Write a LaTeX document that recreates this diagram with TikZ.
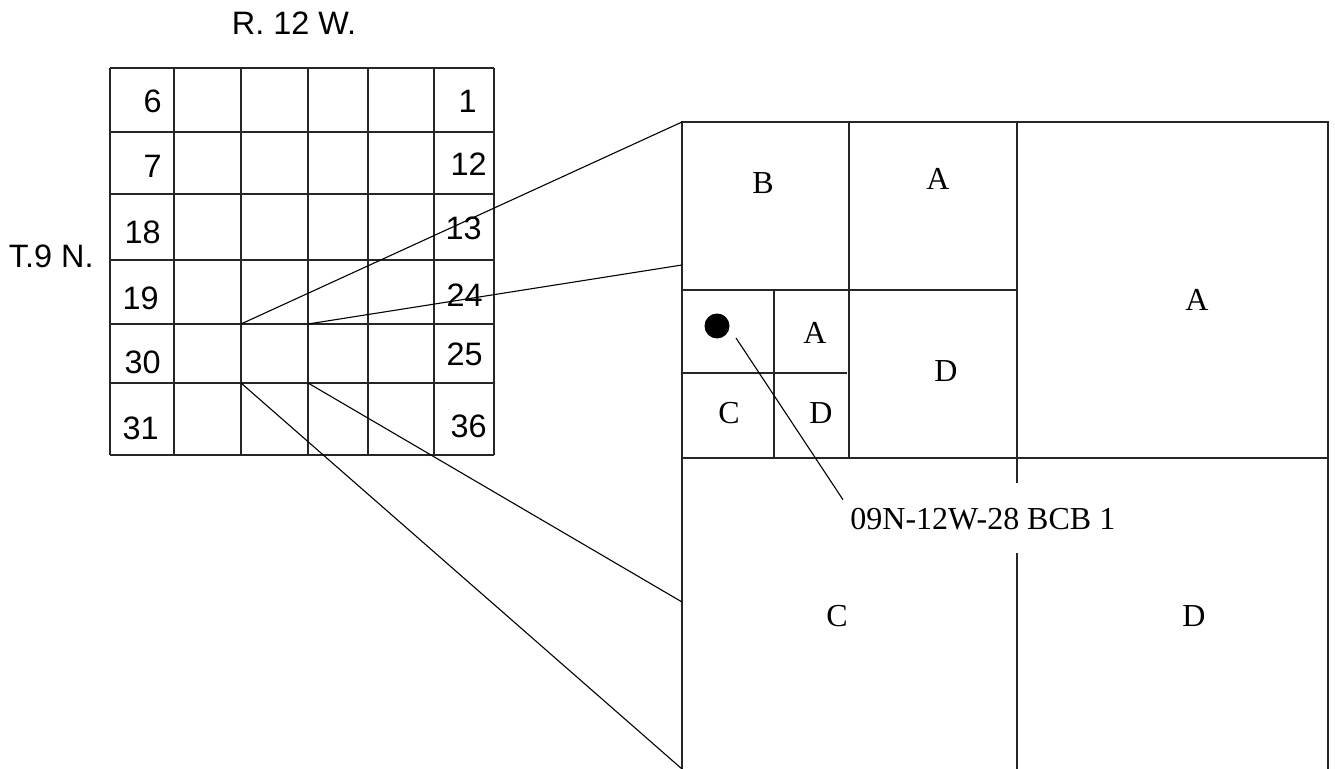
\documentclass[tikz,border=0pt]{standalone}
\usepackage{fontspec}
\setmainfont{Liberation Serif}
\setsansfont{Liberation Sans}
\usetikzlibrary{positioning}

\begin{document}
\begin{tikzpicture}[
  x=0.5pt, y=-0.5pt,
  num/.style={font=\sffamily\fontsize{16.2}{19}\selectfont, inner sep=0pt},
  qtr/.style={font=\fontsize{16}{19}\selectfont, inner sep=0pt},
  ruling/.style={line width=0.75pt, draw=black!85},
  leader/.style={line width=0.55pt},
  well/.style={circle, fill=black, inner sep=0pt, minimum size=12.5pt},
]
\useasboundingbox (0,0) rectangle (1335,769);
% township grid
\foreach \gx in {110,174,241,308,368,434,494} \draw[ruling] (\gx,68) -- (\gx,455);
\foreach \gy in {68,132,194,260,324,383,455} \draw[ruling] (110,\gy) -- (494,\gy);
\node[num] (range) at (294,23) {R. 12 W.};
\node[num, anchor=east] (town) at (94,256) {T.9 N.};
\node[num, anchor=east] (s6) at (162,101) {6};
\node[num, anchor=east] (s7) at (162,166) {7};
\node[num, anchor=east] (s18) at (161,232) {18};
\node[num, anchor=east] (s19) at (159,298) {19};
\node[num, anchor=east] (s30) at (161,362) {30};
\node[num, anchor=east] (s31) at (159,428) {31};
\node[num, anchor=east] (s1) at (477,101) {1};
\node[num, anchor=east] (s12) at (487,164) {12};
\node[num, anchor=east] (s13) at (482,228) {13};
\node[num, anchor=east] (s24) at (483,295) {24};
\node[num, anchor=east] (s25) at (483,354) {25};
\node[num, anchor=east] (s36) at (487,426) {36};
% section 28, enlarged
\coordinate (sqnw) at (682,122);
\coordinate (sqsw) at (682,769);
\coordinate (sqw1) at (682,265);
\coordinate (sqw2) at (682,602);
\draw[ruling, line width=1pt] (sqsw) -- (sqnw) -- (1328,122) -- (1328,769);
\draw[ruling, line width=1pt] (682,458) -- (1328,458);
\draw[ruling, line width=1pt] (1017,122) -- (1017,483);
\draw[ruling, line width=1pt] (1017,553) -- (1017,769);
\draw[ruling, line width=1pt] (849,122) -- (849,458);
\draw[ruling, line width=1pt] (682,290) -- (1017,290);
\draw[ruling] (774,290) -- (774,458);
\draw[ruling] (682,373) -- (847,373);
\node[qtr] (qb) at (763,183) {B};
\node[qtr] (qa) at (938,179) {A};
\node[qtr] (qaa) at (1197,300) {A};
\node[qtr] (qd) at (946,371) {D};
\node[qtr] (qba) at (815,333) {A};
\node[qtr] (qbc) at (729,413) {C};
\node[qtr] (qbd) at (821,413) {D};
\node[qtr] (qc) at (837,616) {C};
\node[qtr] (qdd) at (1194,616) {D};
\node[well] (site) at (717,326) {};
\node[qtr, anchor=west] (tag) at (850,519) {09N-12W-28 BCB 1};
\coordinate (sitegap) at (736,338);
\draw[leader] (sitegap) -- ([xshift=-3.5pt,yshift=4pt]tag.north west);
% fan-out to the enlarged section
\coordinate (c1) at (241,324);
\coordinate (c2) at (308,324);
\coordinate (c3) at (241,383);
\coordinate (c4) at (308,383);
\draw[leader] (c1) -- (sqnw);
\draw[leader] (c2) -- (sqw1);
\draw[leader] (c3) -- (sqsw);
\draw[leader] (c4) -- (sqw2);
\end{tikzpicture}
\end{document}
